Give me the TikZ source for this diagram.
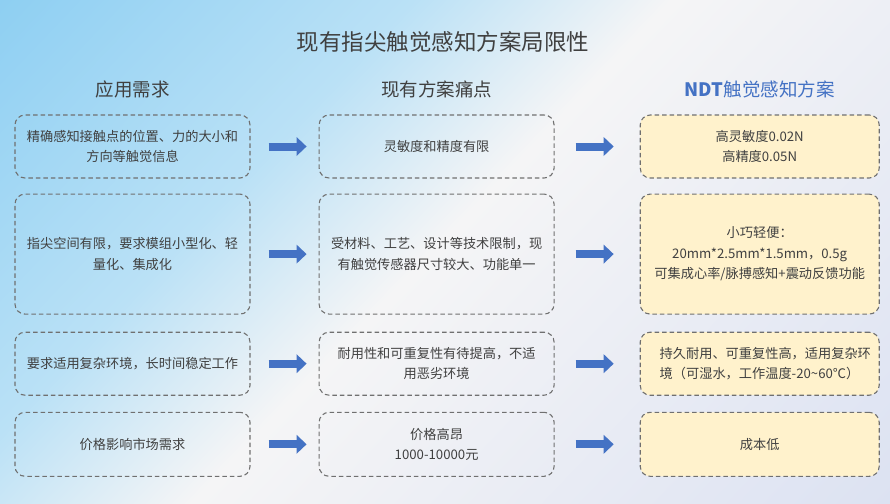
\documentclass[tikz,border=0pt]{standalone}
\usepackage{fontspec}
\setmainfont{Noto Sans CJK SC}
\usetikzlibrary{positioning}
\usetikzlibrary{arrows.meta}
\definecolor{bgblue}{HTML}{8ECFF2}
\definecolor{bglight}{HTML}{BAE1F6}
\definecolor{bgwhite}{HTML}{F5F5F6}
\definecolor{bglav}{HTML}{DCE2F2}
\definecolor{ink}{HTML}{404040}
\definecolor{dashgray}{HTML}{707070}
\definecolor{ndtblue}{HTML}{4472C4}
\definecolor{ndtyellow}{HTML}{FFF2CC}
\pgfdeclarehorizontalshading{backdrop}{100bp}{color(0bp)=(bgblue); color(25.25bp)=(bgblue); color(40.2bp)=(bglight); color(49.5bp)=(bgwhite); color(74.8bp)=(bglav); color(100bp)=(bglav)}

\begin{document}
\begin{tikzpicture}[x=1pt, y=1pt,
          need/.style = {draw=dashgray, line width=1.1pt, dash pattern=on 4.5pt off 3pt, rounded corners=10pt, minimum width=235pt, minimum height=63pt, inner sep=0pt, align=center, text=ink, font=\fontsize{13.2}{20.5}\selectfont},
          gain/.style = {need, fill=ndtyellow, minimum width=239pt},
          head/.style = {text=ink, font=\fontsize{18.5}{22}\selectfont},
          arrow/.style = {draw=ndtblue, line width=8pt, -{Triangle[length=10pt, width=19pt, line width=0pt]}, shorten <=18pt, shorten >=12pt},
          node distance = 16pt
        ]

        % Background
        \useasboundingbox (0,0) rectangle (890,-503);
        \begin{scope}
          \clip (0,0) rectangle (890,-503);
          \shade[shading=backdrop, transform canvas={rotate=-43.66}] (-5,-370) rectangle (996,620);
        \end{scope}

        % Title and column heads
        \node[text=ink, font=\fontsize{22.5}{26}\selectfont] (title) at (443,-42) {现有指尖触觉感知方案局限性};
        \coordinate (headline) at (0,-89);

        % Nodes
        \node[need] (need1) at (132.5,-146.5) {精确感知接触点的位置、力的大小和\\方向等触觉信息};
        \node[need, right=68pt of need1] (pain1) {灵敏度和精度有限};
        \node[gain, right=85pt of pain1] (ndt1) {高灵敏度0.02N\\高精度0.05N};

        \node[need, minimum height=120pt, below=15pt of need1] (need2) {指尖空间有限，要求模组小型化、轻\\量化、集成化};
        \node[need, minimum height=120pt, right=68pt of need2] (pain2) {受材料、工艺、设计等技术限制，现\\有触觉传感器尺寸较大、功能单一};
        \node[gain, minimum height=120pt, right=85pt of pain2] (ndt2) {小巧轻便：\\20mm*2.5mm*1.5mm，0.5g\\可集成心率/脉搏感知+震动反馈功能};

        \node[need, below=17pt of need2] (need3) {要求适用复杂环境，长时间稳定工作};
        \node[need, right=68pt of need3] (pain3) {耐用性和可重复性有待提高，不适\\用恶劣环境};
        \node[gain, text width=200pt, align=left, right=85pt of pain3] (ndt3) {持久耐用、可重复性高，适用复杂环\\境（可湿水，工作温度-20\textasciitilde60℃）};

        \node[need, minimum height=64pt, below=of need3] (need4) {价格影响市场需求};
        \node[need, minimum height=64pt, right=68pt of need4] (pain4) {价格高昂\\1000-10000元};
        \node[gain, minimum height=64pt, right=85pt of pain4] (ndt4) {成本低};

        \node[head] (needhead) at (need1 |- headline) {应用需求};
        \node[head] (painhead) at (pain1 |- headline) {现有方案痛点};
        \node[head, text=ndtblue] (ndthead) at (ndt1 |- headline) {\textbf{NDT}触觉感知方案};

        % Block arrows between columns
        \draw[arrow] (need1) -- (pain1);
        \draw[arrow] (need2) -- (pain2);
        \draw[arrow] (need3) -- (pain3);
        \draw[arrow] (need4) -- (pain4);
        \draw[arrow, shorten <=21pt, shorten >=26pt] (pain1) -- (ndt1);
        \draw[arrow, shorten <=21pt, shorten >=26pt] (pain2) -- (ndt2);
        \draw[arrow, shorten <=21pt, shorten >=26pt] (pain3) -- (ndt3);
        \draw[arrow, shorten <=21pt, shorten >=26pt] (pain4) -- (ndt4);

      \end{tikzpicture}
\end{document}
